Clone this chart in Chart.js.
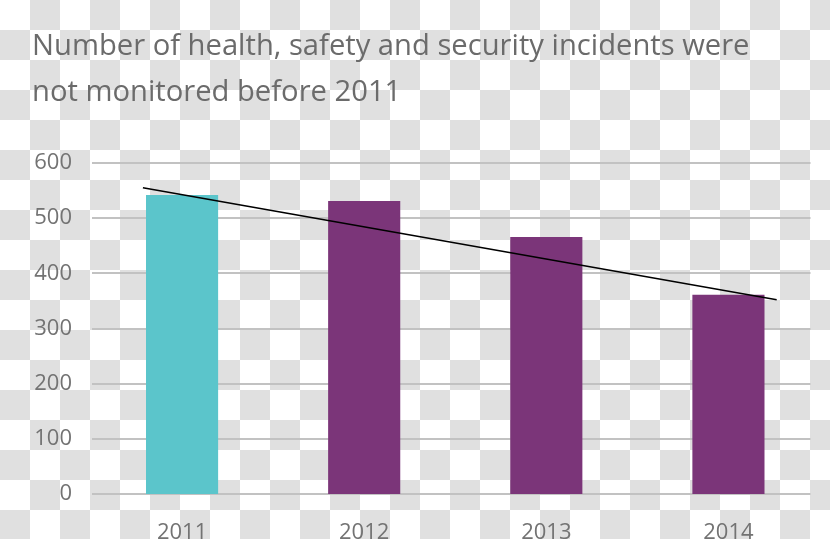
<!DOCTYPE html>
<html><head><meta charset="utf-8">
<script src="https://cdn.jsdelivr.net/npm/chart.js@4"></script>
<style>
html,body{margin:0;padding:0;}
html{background:repeating-conic-gradient(#e0e0e0 0 25%,#ffffff 0 50%) 0 0/60px 60px;}
#wrap{width:830px;height:539px;position:relative;}
canvas{display:block;}
</style></head><body>
<div id="wrap"><canvas id="c" width="830" height="539"></canvas></div>
<script>
const titleLines = ["Number of health, safety and security incidents were", "not monitored before 2011"];
const categories = ["2011", "2012", "2013", "2014"];
const incidents = [542, 531, 466, 361];
const barColors = ["#5bc5cb", "#7b3579", "#7b3579", "#7b3579"];
const trendX = [-0.215, 3.265];
const trendY = [555, 352];
const yMin = 0, yMax = 600, yStep = 100;

const FONT = "'Open Sans', 'DejaVu Sans', sans-serif";

const gridPlugin = {
  id: 'customGrid',
  beforeDatasetsDraw(chart) {
    const y = chart.scales.y;
    const ca = chart.chartArea;
    const ctx = chart.ctx;
    ctx.save();
    ctx.strokeStyle = '#c2c2c2';
    ctx.lineWidth = 2;
    y.ticks.forEach(t => {
      const py = Math.round(y.getPixelForValue(t.value));
      ctx.beginPath();
      ctx.moveTo(ca.left + 1, py);
      ctx.lineTo(ca.right - 9, py);
      ctx.stroke();
    });
    ctx.restore();
  }
};

new Chart(document.getElementById('c'), {
  type: 'bar',
  data: {
    labels: categories,
    datasets: [
      {
        type: 'bar',
        data: incidents,
        xAxisID: 'x',
        yAxisID: 'y',
        backgroundColor: barColors,
        borderWidth: 0,
        grouped: false,
        barPercentage: 0.396,
        categoryPercentage: 1,
        order: 2
      },
      {
        type: 'line',
        data: trendX.map((x, i) => ({x: x, y: trendY[i]})),
        xAxisID: 'xt',
        yAxisID: 'y',
        borderColor: '#000000',
        borderWidth: 1.5,
        pointRadius: 0,
        fill: false,
        order: 1
      }
    ]
  },
  options: {
    responsive: false,
    animation: false,
    layout: {padding: {left: 32, right: 10.5, top: 0, bottom: 0}},
    plugins: {
      legend: {display: false},
      tooltip: {enabled: false},
      title: {
        display: true,
        text: titleLines,
        align: 'start',
        color: '#6b6b6b',
        font: {family: FONT, size: 29.2, weight: 'normal', lineHeight: 1.55},
        padding: {top: 24.5, bottom: 48}
      }
    },
    scales: {
      x: {
        type: 'category',
        offset: true,
        grid: {display: false, drawTicks: false},
        border: {display: false},
        ticks: {color: '#737373', font: {family: FONT, size: 22}, padding: 26},
        afterFit(s) { s.height = 45; }
      },
      xt: {
        type: 'linear',
        display: false,
        offset: false,
        min: -0.5,
        max: 3.5,
        grid: {drawTicks: false}
      },
      y: {
        min: yMin,
        max: yMax,
        grid: {display: false, drawTicks: false},
        border: {display: false},
        ticks: {stepSize: yStep, color: '#737373', font: {family: FONT, size: 22}, padding: 19},
        afterFit(s) { s.width = 59; }
      }
    }
  },
  plugins: [gridPlugin]
});
</script>
</body></html>
